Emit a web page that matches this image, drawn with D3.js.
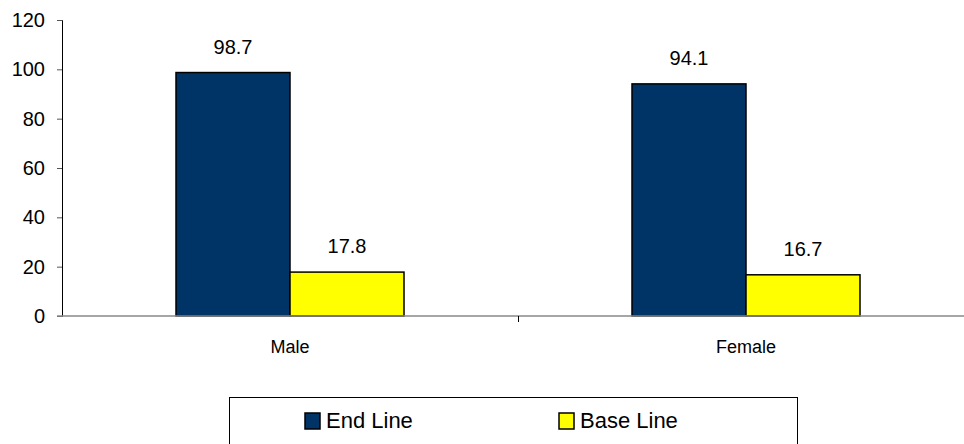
<!DOCTYPE html>
<html>
<head>
<meta charset="utf-8">
<script src="https://cdn.jsdelivr.net/npm/d3@7/dist/d3.min.js"></script>
<style>
  body { margin: 0; background: #fff; }
  text { font-family: Arial, "Liberation Sans", sans-serif; fill: #000; }
</style>
</head>
<body>
<div id="wrapper"></div>
<script>
// data
const categories = ["Male", "Female"]
const seriesNames = ["End Line", "Base Line"]
const endLine = [98.7, 94.1]
const baseLine = [17.8, 16.7]
const yTicks = [0, 20, 40, 60, 80, 100, 120]
const seriesColors = ["#003366", "#ffff00"]

function drawBars() {
  const dimensions = {
    width: 964,
    height: 444,
    margin: { top: 20, left: 62 }
  }
  dimensions.plotBottom = 316
  dimensions.plotRight = 974

  const svg = d3.select("#wrapper")
    .append("svg")
      .attr("width", dimensions.width)
      .attr("height", dimensions.height)

  // scales
  const xScale = d3.scaleBand()
      .domain(categories)
      .range([dimensions.margin.left, dimensions.plotRight])

  const innerScale = d3.scaleBand()
      .domain(seriesNames)
      .range([xScale.bandwidth() * 0.25, xScale.bandwidth() * 0.75])

  const yScale = d3.scaleLinear()
      .domain([0, 120])
      .range([dimensions.plotBottom, dimensions.margin.top])

  const rows = categories.map((c, i) => ({
    category: c,
    values: [endLine[i], baseLine[i]]
  }))

  // bars
  const groups = svg.selectAll(".group")
      .data(rows)
    .enter().append("g")
      .attr("class", "group")
      .attr("transform", d => `translate(${xScale(d.category)},0)`)

  groups.selectAll("rect")
      .data(d => d.values.map((v, i) => ({ key: seriesNames[i], value: v, i })))
    .enter().append("rect")
      .attr("x", d => innerScale(d.key))
      .attr("y", d => yScale(d.value))
      .attr("width", innerScale.bandwidth())
      .attr("height", d => yScale(0) - yScale(d.value))
      .attr("fill", d => seriesColors[d.i])
      .attr("stroke", "#000")
      .attr("stroke-width", 1.5)

  groups.selectAll(".value")
      .data(d => d.values.map((v, i) => ({ key: seriesNames[i], value: v })))
    .enter().append("text")
      .attr("class", "value")
      .attr("x", d => innerScale(d.key) + innerScale.bandwidth() / 2)
      .attr("y", d => yScale(d.value) - 19)
      .attr("text-anchor", "middle")
      .style("font-size", "20px")
      .text(d => d.value.toFixed(1))

  // y axis
  const yAxis = svg.append("g")
      .attr("transform", `translate(${dimensions.margin.left},0)`)
      .call(d3.axisLeft(yScale).tickValues(yTicks).tickSize(5).tickPadding(12))
  yAxis.select(".domain").attr("stroke", "#000")
  yAxis.selectAll(".tick line").attr("stroke", "#555")
  yAxis.selectAll(".tick text")
      .style("font-size", "20px")
      .style("font-family", "Arial, 'Liberation Sans', sans-serif")
      .attr("fill", "#000")

  // x axis
  const xAxis = svg.append("g")
      .attr("transform", `translate(0,${dimensions.plotBottom})`)
  xAxis.append("line")
      .attr("x1", dimensions.margin.left - 5)
      .attr("x2", dimensions.plotRight)
      .attr("stroke", "#888")
      .attr("stroke-width", 1.5)
  xAxis.selectAll(".xtick")
      .data(categories.slice(1))
    .enter().append("line")
      .attr("x1", d => xScale(d) + 0.5)
      .attr("x2", d => xScale(d) + 0.5)
      .attr("y1", 0)
      .attr("y2", 6)
      .attr("stroke", "#000")
  xAxis.selectAll(".xlabel")
      .data(categories)
    .enter().append("text")
      .attr("x", d => xScale(d) + xScale.bandwidth() / 2)
      .attr("y", 37)
      .attr("text-anchor", "middle")
      .style("font-size", "18px")
      .text(d => d)

  // legend
  const legend = svg.append("g")
  legend.append("rect")
      .attr("x", 229.5)
      .attr("y", 397.5)
      .attr("width", 568)
      .attr("height", 60)
      .attr("fill", "#fff")
      .attr("stroke", "#000")

  const legendX = [305, 559]
  const items = legend.selectAll(".item")
      .data(seriesNames)
    .enter().append("g")
      .attr("transform", (d, i) => `translate(${legendX[i]},413)`)
  items.append("rect")
      .attr("width", 15)
      .attr("height", 16)
      .attr("fill", (d, i) => seriesColors[i])
      .attr("stroke", "#000")
      .attr("stroke-width", 1.5)
  items.append("text")
      .attr("x", 21)
      .attr("y", 15)
      .style("font-size", "22px")
      .text(d => d)
}
drawBars()
</script>
</body>
</html>
